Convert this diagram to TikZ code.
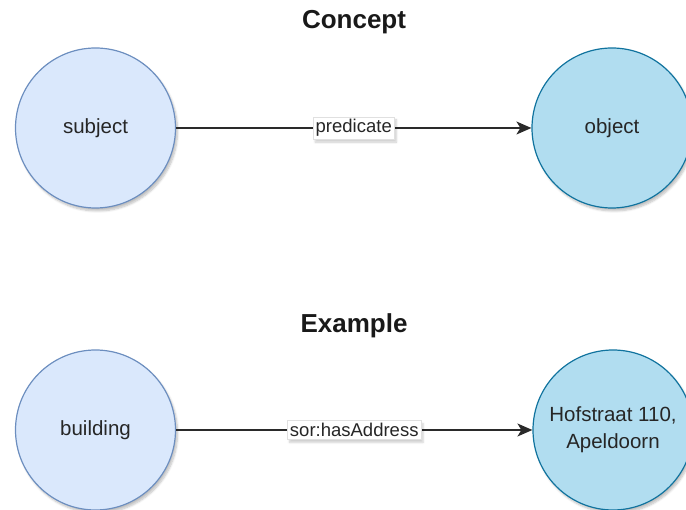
\documentclass[tikz,border=0pt]{standalone}
\usepackage{fontspec}
\setmainfont{Liberation Sans}
\usetikzlibrary{arrows.meta,shadows.blur}
\definecolor{subjfill}{HTML}{DAE8FC}
\definecolor{subjline}{HTML}{6C8EBF}
\definecolor{objfill}{HTML}{B1DDF0}
\definecolor{objline}{HTML}{10739E}
\definecolor{edgecol}{HTML}{2A2A2A}
\tikzset{
  shd/.style={blur shadow={shadow xshift=2pt,shadow yshift=-3pt,shadow blur steps=6,shadow opacity=25}},
  subjnode/.style={circle,draw=subjline,fill=subjfill,line width=1.2pt,minimum size=160pt,inner sep=0pt,shd,
    font=\fontsize{20.5}{25}\selectfont,text=black!85},
  objnode/.style={circle,draw=objline,fill=objfill,line width=1.2pt,minimum size=160pt,inner sep=0pt,shd,
    font=\fontsize{20.5}{27}\selectfont,text=black!85,align=center},
  title/.style={font=\fontsize{26}{30}\selectfont\bfseries,text=black!90},
  edge/.style={draw=edgecol,line width=1.5pt,-{Stealth[length=15pt,width=13pt,inset=4pt]}},
  elabel/.style={fill=white,draw=black!12,line width=0.5pt,inner xsep=2.5pt,inner ysep=2.5pt,
    font=\fontsize{18.5}{22}\selectfont,text=black!85,blur shadow={shadow xshift=2pt,shadow yshift=-3pt,shadow blur steps=5,shadow opacity=20}},
}
\begin{document}
\begin{tikzpicture}[x=1pt,y=-1pt]
\useasboundingbox (0,0) rectangle (686,510);
\node[title] (t1) at (354,22) {Concept};
\node[title] (t2) at (354,326) {Example};
\node[subjnode] (subj) at (95.5,128) {subject};
\node[objnode] (obj) at (612,128) {object};
\node[subjnode] (bld) at (95.5,430) {building};
\node[objnode] (addr) at (613,430) {Hofstraat 110,\\Apeldoorn};
\draw[edge] (subj) -- node[elabel] {predicate} (obj);
\draw[edge] (bld) -- node[elabel] {sor:hasAddress} (addr);
\end{tikzpicture}
\end{document}
